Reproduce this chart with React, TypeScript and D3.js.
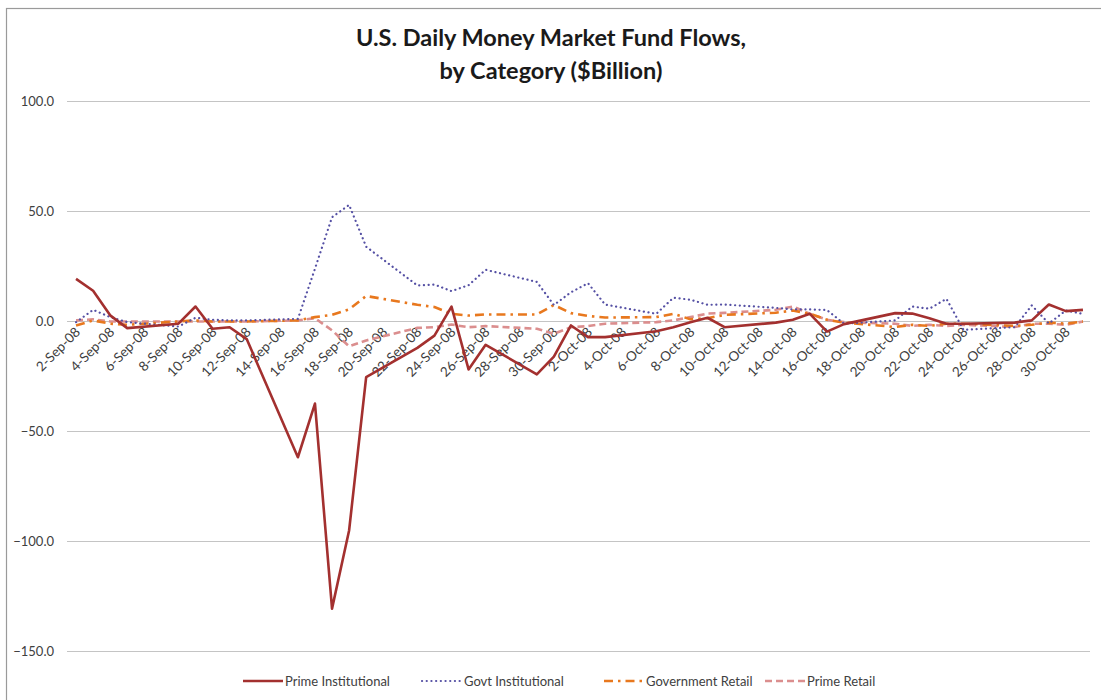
import * as d3 from "d3";
import React, { useEffect, useRef } from "react";

// weekday dates (Excel date axis, lines span weekends)
const dates: string[] = [
  "2008-09-02", "2008-09-03", "2008-09-04", "2008-09-05",
  "2008-09-08", "2008-09-09", "2008-09-10", "2008-09-11", "2008-09-12",
  "2008-09-15", "2008-09-16", "2008-09-17", "2008-09-18", "2008-09-19",
  "2008-09-22", "2008-09-23", "2008-09-24", "2008-09-25", "2008-09-26",
  "2008-09-29", "2008-09-30", "2008-10-01", "2008-10-02", "2008-10-03",
  "2008-10-06", "2008-10-07", "2008-10-08", "2008-10-09", "2008-10-10",
  "2008-10-13", "2008-10-14", "2008-10-15", "2008-10-16", "2008-10-17",
  "2008-10-20", "2008-10-21", "2008-10-22", "2008-10-23", "2008-10-24",
  "2008-10-27", "2008-10-28", "2008-10-29", "2008-10-30", "2008-10-31",
];

const primeInstitutional = [
  19.4, 14, 2.8, -3,
  -1, 6.8, -3.3, -2.6, -8,
  -61.7, -37.3, -130.5, -95, -25.3,
  -12, -6.4, 6.8, -21.8, -10.6,
  -24, -16, -1.8, -7.1, -7.1,
  -4.4, -2.6, -0.3, 1.7, -2.6,
  -0.5, 0.8, 3.5, -4.6, -1.2,
  3.8, 3.6, 1.5, -1, -1,
  -0.5, 0.5, 7.7, 4.7, 5.3,
];

const govtInstitutional = [
  -0.3, 5.3, 2, -0.3,
  -2.3, 1.7, 0.8, 0.5, 0.5,
  1.2, 24, 47.4, 53, 34,
  16.4, 16.8, 13.8, 16.5, 23.5,
  18, 7.5, 13.3, 17.4, 7.7,
  3.5, 10.8, 9.9, 7.6, 7.7,
  6.2, 5.5, 5.5, 5.2, -1,
  0.5, 6.8, 5.8, 10.3, -3.8,
  -2.6, 7.3, -0.9, 5, 3.5,
];

const governmentRetail = [
  -1.8, 0.5, -1, -1.5,
  0, 0.5, 0, 0, 0,
  0.5, 2, 3, 5.5, 11.6,
  7.6, 6.6, 3.5, 2.7, 3.2,
  3.2, 7.5, 3.8, 2.5, 1.8,
  2, 3.5, 1, 1.5, 3,
  4, 5, 3.5, 0.8, -0.5,
  -2.5, -1.5, -2, -1, -1,
  -2, -1.5, -0.5, -1, 0,
];

const primeRetail = [
  0.5, 1, 0, 0,
  0, 0, 0, 0, 0,
  0.5, 1.5, -4, -11.3, -8.6,
  -2.9, -2.6, -1.4, -2.6, -2.1,
  -3.3, -5.6, -2.6, -2.1, -1,
  -0.3, 0.5, 2, 3.6, 3.9,
  5.3, 6.8, 3.5, 0.8, -0.3,
  -1, -2, -1.5, -2, -1.5,
  -2.5, -1, -1, -1.5, 0,
];

const yTicks = [100, 50, 0, -50, -100, -150];

const seriesNames = [
  "Prime Institutional",
  "Govt Institutional",
  "Government Retail",
  "Prime Retail",
];

const App: React.FC = () => {
  const ref = useRef<SVGSVGElement>(null);

  useEffect(() => {
    if (!ref.current) return;
    const svg = d3.select(ref.current);
    svg.selectAll("*").remove();

    const W = 1101,
      H = 700;
    const font = "Lato, 'Open Sans', sans-serif";
    const textColor = "#404040";

    // chart frame (cropped excel chart)
    svg
      .append("rect")
      .attr("x", 6.5)
      .attr("y", 8.5)
      .attr("width", W + 10)
      .attr("height", H + 10)
      .attr("fill", "#fff")
      .attr("stroke", "#9a9a9a")
      .attr("stroke-width", 1.2);

    const parse = d3.utcParse("%Y-%m-%d");
    const days = dates.map((d) => parse(d) as Date);

    // date axis, points centred in each day slot
    const x = d3
      .scaleUtc()
      .domain([new Date(Date.UTC(2008, 8, 1, 12)), new Date(Date.UTC(2008, 9, 31, 12))])
      .range([67.5, 1091.5]);
    const y = d3.scaleLinear().domain([-150, 100]).range([651.5, 101.5]);

    // gridlines
    svg
      .append("g")
      .selectAll("line")
      .data(yTicks)
      .join("line")
      .attr("x1", 67)
      .attr("x2", 1090)
      .attr("y1", (d) => y(d))
      .attr("y2", (d) => y(d))
      .attr("stroke", "#c4c4c4")
      .attr("stroke-width", 1.2);

    // y labels
    svg
      .append("g")
      .selectAll("text")
      .data(yTicks)
      .join("text")
      .attr("x", 54)
      .attr("y", (d) => y(d))
      .attr("dy", "0.35em")
      .attr("text-anchor", "end")
      .style("font-family", font)
      .style("font-size", "13px")
      .style("fill", textColor)
      .text((d) => d3.format(".1f")(d));

    // x labels every 2 days
    const xTicks = d3.utcDay.range(
      new Date(Date.UTC(2008, 8, 2)),
      new Date(Date.UTC(2008, 9, 31)),
      2
    );
    const fmt = d3.utcFormat("%-d-%b-%y");
    svg
      .append("g")
      .selectAll("text")
      .data(xTicks)
      .join("text")
      .attr("transform", (d) => `translate(${x(d) + 5},${333}) rotate(-45)`)
      .attr("text-anchor", "end")
      .style("font-family", font)
      .style("font-size", "13.5px")
      .style("fill", textColor)
      .text((d) => fmt(d));

    const styles = [
      { color: "#a3302f", width: 2.6, dash: null as string | null, cap: "butt" },
      { color: "#5550a4", width: 2.2, dash: "0.1 4.6", cap: "round" },
      { color: "#e8781e", width: 2.6, dash: "9 5 2.5 5", cap: "butt" },
      { color: "#db8e8e", width: 2.6, dash: "7 4", cap: "butt" },
    ];
    const allSeries = [primeRetail, governmentRetail, govtInstitutional, primeInstitutional];
    const order = [3, 2, 1, 0];

    const line = d3
      .line<number>()
      .x((_, i) => x(days[i]))
      .y((v) => y(v));

    allSeries.forEach((vals, k) => {
      const s = styles[order[k]];
      svg
        .append("path")
        .datum(vals)
        .attr("d", line)
        .attr("fill", "none")
        .attr("stroke", s.color)
        .attr("stroke-width", s.width)
        .attr("stroke-linecap", s.cap)
        .attr("stroke-linejoin", "round")
        .attr("stroke-dasharray", s.dash);
    });

    // legend
    const legendX = [243, 422, 604, 765];
    const lg = svg.append("g");
    seriesNames.forEach((name, i) => {
      const s = styles[i];
      const g = lg.append("g").attr("transform", `translate(${legendX[i]},681)`);
      g.append("line")
        .attr("x1", 0)
        .attr("x2", 40)
        .attr("y1", 0)
        .attr("y2", 0)
        .attr("stroke", s.color)
        .attr("stroke-width", s.width)
        .attr("stroke-linecap", s.cap)
        .attr("stroke-dasharray", s.dash);
      g.append("text")
        .attr("x", 42)
        .attr("y", 0)
        .attr("dy", "0.35em")
        .style("font-family", font)
        .style("font-size", "13px")
        .style("fill", textColor)
        .text(name);
    });

    // title
    const title = svg
      .append("text")
      .attr("x", 551)
      .attr("text-anchor", "middle")
      .style("font-family", font)
      .style("font-size", "23.5px")
      .style("font-weight", "bold")
      .style("fill", "#1a1a1a");
    title.append("tspan").attr("x", 551).attr("y", 46).text("U.S. Daily Money Market Fund Flows,");
    title.append("tspan").attr("x", 551).attr("y", 79).text("by Category ($Billion)");
  }, []);

  return (
    <div style={{ position: "absolute", left: 0, top: 0 }}>
      <svg ref={ref} width={1101} height={700} style={{ display: "block" }} />
    </div>
  );
};

export default App;
